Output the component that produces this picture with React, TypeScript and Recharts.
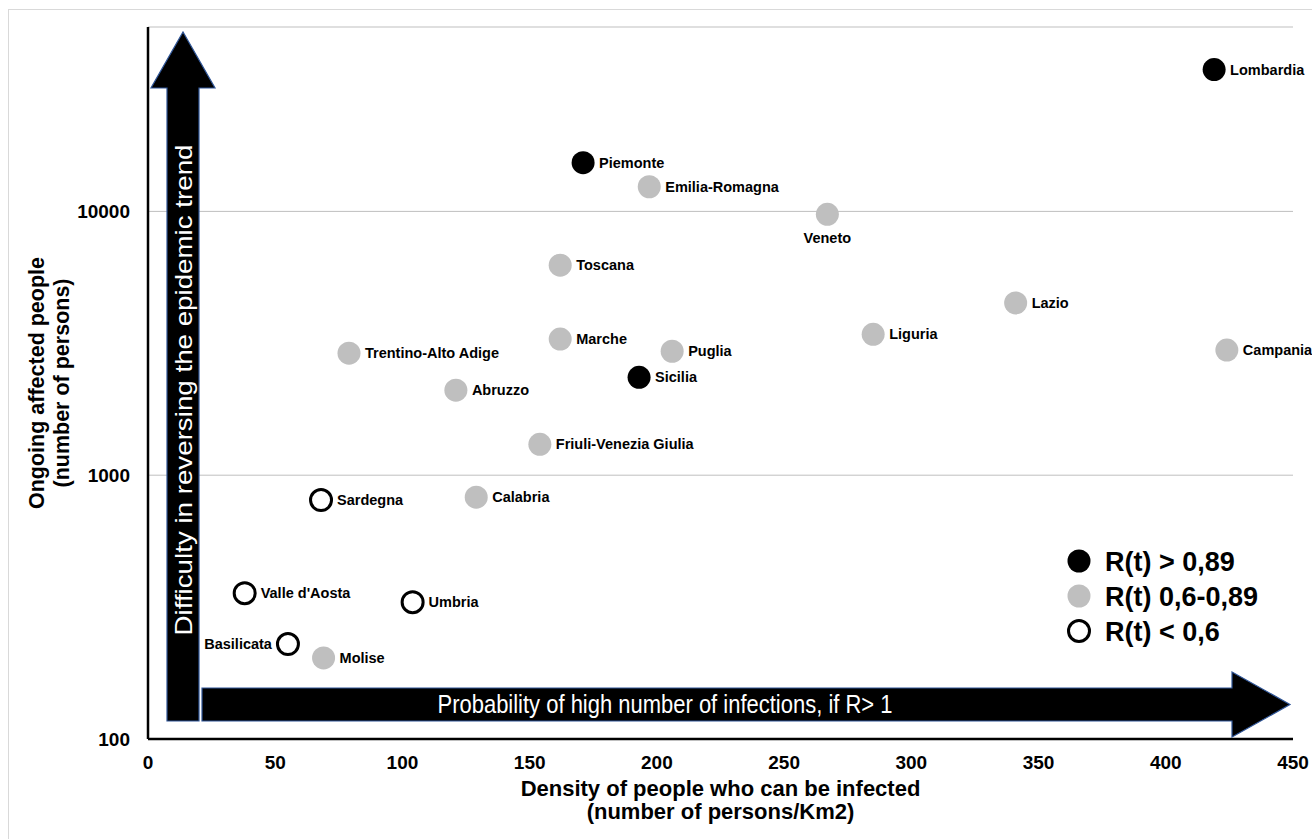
import React, { useLayoutEffect } from "react"
import { CartesianGrid, Legend, Scatter, ScatterChart, XAxis, YAxis } from "recharts"

const regions = [
    "Lombardia", "Piemonte", "Emilia-Romagna", "Veneto", "Toscana", "Lazio", "Liguria",
    "Campania", "Marche", "Puglia", "Trentino-Alto Adige", "Sicilia", "Abruzzo",
    "Friuli-Venezia Giulia", "Calabria", "Sardegna", "Valle d'Aosta", "Umbria", "Basilicata", "Molise",
]
const density = [419, 171, 197, 267, 162, 341, 285, 424, 162, 206, 79, 193, 121, 154, 129, 68, 38, 104, 55, 69]
const affected = [34500, 15300, 12400, 9750, 6250, 4500, 3420, 2980, 3280, 2950, 2900, 2350, 2100, 1310, 825, 805, 357, 330, 229, 203]
const rtGroup = [
    "high", "high", "mid", "mid", "mid", "mid", "mid", "mid", "mid", "mid", "mid", "high", "mid",
    "mid", "mid", "low", "low", "low", "low", "mid",
]
const groupNames = ["high", "mid", "low"]
const legendLabels = ["R(t) > 0,89", "R(t) 0,6-0,89", "R(t) < 0,6"]
const xTicks = [0, 50, 100, 150, 200, 250, 300, 350, 400, 450]
const yTicks = [100, 1000, 10000]

// where the region name goes, relative to its dot
const labelSide: Record<string, "right" | "below" | "left"> = { Veneto: "below", Basilicata: "left" }

const FONT = "'Liberation Sans', Arial, sans-serif"

const rows = regions.map((name, i) => ({ name, x: density[i], y: affected[i], group: rtGroup[i] }))

const Dot = ({ group, cx, cy }: { group: string, cx: number, cy: number }) =>
    group === "low"
        ? <circle cx={cx} cy={cy} r={10.5} fill="#fff" stroke="#000" strokeWidth={3} />
        : <circle cx={cx} cy={cy} r={11.5} fill={group === "high" ? "#000" : "#BFBFBF"} />

const makeShape = (group: string) => (props: any) => {
    const { cx, cy, payload } = props
    const side = labelSide[payload.name] || "right"
    let tx = cx + 16, ty = cy + 5, anchor = "start"
    if (side === "below") { tx = cx; ty = cy + 29; anchor = "middle" }
    if (side === "left") { tx = cx - 16; anchor = "end" }
    return (
        <g>
            <Dot group={group} cx={cx} cy={cy} />
            <text x={tx} y={ty} textAnchor={anchor} fontFamily={FONT} fontWeight="bold" fontSize={14.5} fill="#000">
                {payload.name}
            </text>
        </g>
    )
}

const XTick = ({ x, y, payload }: any) => (
    <text x={x} y={y + 22} textAnchor="middle" fontFamily={FONT} fontWeight="bold" fontSize={19} fill="#000">
        {payload.value}
    </text>
)

const YTick = ({ x, y, payload }: any) => (
    <text x={x} y={y + 7} textAnchor="end" fontFamily={FONT} fontWeight="bold" fontSize={19} fill="#000">
        {payload.value}
    </text>
)

const XTitle = ({ viewBox }: any) => {
    const mx = viewBox.x + viewBox.width / 2
    return (
        <text textAnchor="middle" fontFamily={FONT} fontWeight="bold" fontSize={22} fill="#000">
            <tspan x={mx} y={viewBox.y + 57}>Density of people who can be infected</tspan>
            <tspan x={mx} y={viewBox.y + 80}>(number of persons/Km2)</tspan>
        </text>
    )
}

const YTitle = ({ viewBox }: any) => {
    const my = viewBox.y + viewBox.height / 2
    return (
        <g fontFamily={FONT} fontWeight="bold" fontSize={21.5} fill="#000" textAnchor="middle">
            <text x={35} y={my} transform={`rotate(-90 35 ${my})`}>Ongoing affected people</text>
            <text x={60} y={my} transform={`rotate(-90 60 ${my})`}>(number of persons)</text>
        </g>
    )
}

const RtLegend = () => (
    <svg width={240} height={110}>
        {groupNames.map((g, i) => (
            <g key={g}>
                <Dot group={g} cx={19} cy={21 + i * 35} />
                <text x={45} y={31 + i * 35} fontFamily={FONT} fontWeight="bold" fontSize={27} fill="#000">
                    {legendLabels[i]}
                </text>
            </g>
        ))}
    </svg>
)

// the two big annotation arrows, in page pixels
const Arrows = () => (
    <svg width={1312} height={839} style={{ position: "absolute", left: -9, top: -10, pointerEvents: "none" }}>
        <polygon points="167,721 167,88 151,88 183,32 215,88 199,88 199,721" fill="#000" stroke="#2F5597" strokeWidth={1.2} />
        <polygon points="202,688 1232,688 1232,672 1290,704.5 1232,737 1232,721 202,721" fill="#000" stroke="#2F5597" strokeWidth={1.2} />
        <text x={192} y={390} transform="rotate(-90 192 390)" textAnchor="middle" fontFamily={FONT} fontSize={24}
            fill="#fff" textLength={491} lengthAdjust="spacingAndGlyphs">
            Difficulty in reversing the epidemic trend
        </text>
        <text x={665} y={713} textAnchor="middle" fontFamily={FONT} fontSize={25}
            fill="#fff" textLength={455} lengthAdjust="spacingAndGlyphs">
            Probability of high number of infections, if R&gt; 1
        </text>
    </svg>
)

const App = () => {
    useLayoutEffect(() => {
        document.documentElement.style.overflow = "hidden"
        document.body.style.overflow = "hidden"
    }, [])
    return (
        <div style={{
            position: "fixed", left: 8, top: 9, width: 1303, height: 829,
            borderTop: "1px solid #D9D9D9", borderLeft: "1px solid #D9D9D9", background: "#fff",
        }}>
            <ScatterChart width={1303} height={829} margin={{ top: 17, right: 19, bottom: 0, left: 0 }}>
                <CartesianGrid vertical={false} stroke="#BFBFBF" strokeWidth={1} />
                <XAxis dataKey="x" type="number" domain={[0, 450]} ticks={xTicks} height={100}
                    tickLine={false} axisLine={{ stroke: "#000", strokeWidth: 2.5 }} tick={<XTick />} label={XTitle} />
                <YAxis dataKey="y" type="number" scale="log" domain={[100, 50000]} ticks={yTicks} width={139}
                    tickLine={false} tickSize={0} tickMargin={18} axisLine={{ stroke: "#000", strokeWidth: 2.5 }} tick={<YTick />} label={YTitle} />
                {groupNames.map(g => (
                    <Scatter key={g} name={g} data={rows.filter(r => r.group === g)} shape={makeShape(g)} isAnimationActive={false} />
                ))}
                <Legend layout="vertical" align="center" verticalAlign="middle" content={<RtLegend />}
                    wrapperStyle={{ left: 1051, top: 530, width: 240, height: 110 }} />
            </ScatterChart>
            <Arrows />
        </div>
    )
}

export default App
